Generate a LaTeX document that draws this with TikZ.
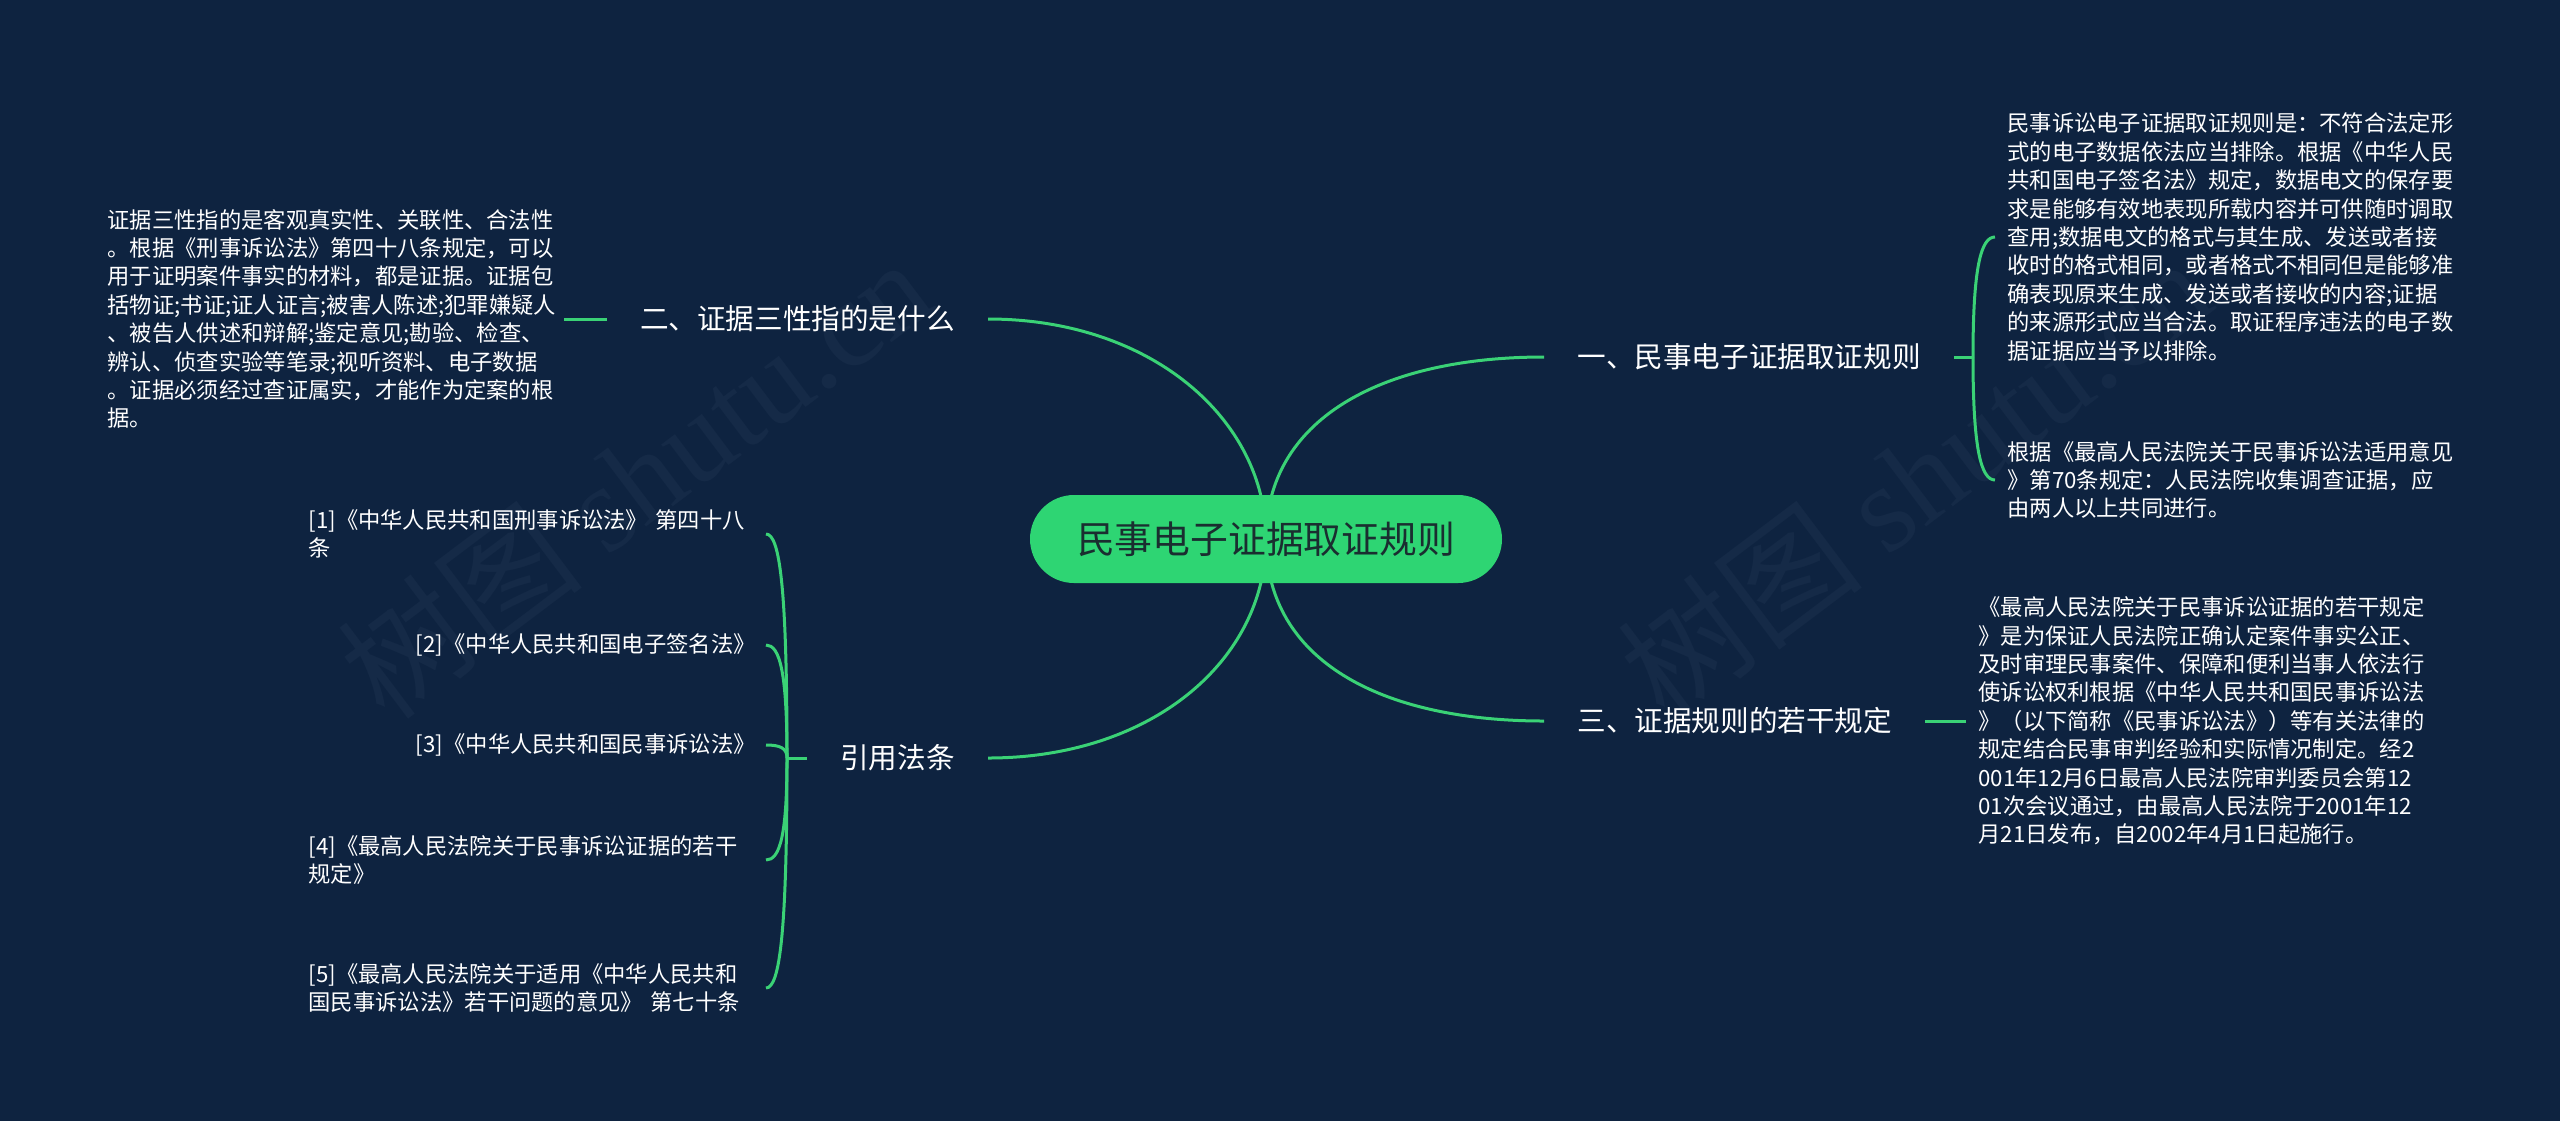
\documentclass[tikz,border=0pt]{standalone}
\usepackage{fontspec}
\setmainfont{Noto Sans CJK SC}
\newfontfamily\wmlatin{Liberation Serif}
\usetikzlibrary{calc}
\definecolor{bgc}{RGB}{14,35,64}
\definecolor{lnc}{RGB}{58,210,118}
\definecolor{rootc}{RGB}{46,213,115}
\definecolor{roottxt}{RGB}{26,46,48}
\definecolor{wmc}{RGB}{21,42,71}
\pgfdeclarelayer{bgl}
\pgfdeclarelayer{lnl}
\pgfsetlayers{bgl,lnl,main}
\hfuzz=300pt
\hbadness=10000
\tikzset{
  conn/.style={draw=lnc, line width=1.5pt},
  rootbox/.style={fill=rootc, rounded corners=22pt, minimum width=236pt, minimum height=44pt, inner sep=0pt, text=roottxt, font=\fontsize{18.9pt}{22pt}\selectfont},
  branch/.style={text=white, inner xsep=16.5pt, inner ysep=4pt, font=\fontsize{14.3pt}{17pt}\selectfont},
  leaf/.style={text=white, align=left, inner ysep=2pt, font=\fontsize{11.15pt}{14.2pt}\selectfont},
  leafw/.style={leaf, text width=223.5pt},
  leafr/.style={leaf, text width=226pt},
  wm/.style={text=wmc, rotate=37, anchor=south west, inner sep=0pt, font=\fontsize{62pt}{66pt}\selectfont}
}
\begin{document}
\begin{tikzpicture}[x=0.5pt,y=-0.5pt]
\useasboundingbox (0,0) rectangle (2560,1121);
\begin{pgfonlayer}{bgl}
\fill[bgc] (0,0) rectangle (2560,1121);
\node[wm] (wm1) at (392,732) {树图 {\wmlatin shutu.cn}};
\node[wm] (wm2) at (1672,732) {树图 {\wmlatin shutu.cn}};
\end{pgfonlayer}

% root
\node[rootbox] (root) at (1266,539) {民事电子证据取证规则};

% branches
\node[branch, anchor=west] (b1) at (1544,357) {一、民事电子证据取证规则};
\node[branch, anchor=east] (b2) at (988,319) {二、证据三性指的是什么};
\node[branch, anchor=west] (b3) at (1544,721) {三、证据规则的若干规定};
\node[branch, anchor=east] (b4) at (988,758) {引用法条};

% details of branch 1
\node[leafr, anchor=west, inner xsep=6pt] (d1a) at (1995,237) {民事诉讼电子证据取证规则是：不符合法定形\\式的电子数据依法应当排除。根据《中华人民\\共和国电子签名法》规定，数据电文的保存要\\求是能够有效地表现所载内容并可供随时调取\\查用;数据电文的格式与其生成、发送或者接\\收时的格式相同，或者格式不相同但是能够准\\确表现原来生成、发送或者接收的内容;证据\\的来源形式应当合法。取证程序违法的电子数\\据证据应当予以排除。};
\node[leafr, anchor=west, inner xsep=6pt] (d1b) at (1995,480) {根据《最高人民法院关于民事诉讼法适用意见\\》第70条规定：人民法院收集调查证据，应\\由两人以上共同进行。};

% detail of branch 2
\node[leafw, anchor=east, inner xsep=4.5pt] (d2) at (564,319) {证据三性指的是客观真实性、关联性、合法性\\。根据《刑事诉讼法》第四十八条规定，可以\\用于证明案件事实的材料，都是证据。证据包\\括物证;书证;证人证言;被害人陈述;犯罪嫌疑人\\、被告人供述和辩解;鉴定意见;勘验、检查、\\辨认、侦查实验等笔录;视听资料、电子数据\\。证据必须经过查证属实，才能作为定案的根\\据。};

% detail of branch 3
\node[leafr, anchor=west, inner xsep=6pt] (d3) at (1966,721) {《最高人民法院关于民事诉讼证据的若干规定\\》是为保证人民法院正确认定案件事实公正、\\及时审理民事案件、保障和便利当事人依法行\\使诉讼权利根据《中华人民共和国民事诉讼法\\》（以下简称《民事诉讼法》）等有关法律的\\规定结合民事审判经验和实际情况制定。经2\\001年12月6日最高人民法院审判委员会第12\\01次会议通过，由最高人民法院于2001年12\\月21日发布，自2002年4月1日起施行。};

% children of branch 4
\node[leafw, anchor=east, inner xsep=5pt] (c1) at (766,534) {[1]《中华人民共和国刑事诉讼法》~第四十八\\条};
\node[leaf, anchor=east, inner xsep=5pt] (c2) at (766,645) {[2]《中华人民共和国电子签名法》};
\node[leaf, anchor=east, inner xsep=5pt] (c3) at (766,745) {[3]《中华人民共和国民事诉讼法》};
\node[leafw, anchor=east, inner xsep=5pt] (c4) at (766,860) {[4]《最高人民法院关于民事诉讼证据的若干\\规定》};
\node[leafw, anchor=east, inner xsep=5pt] (c5) at (766,988) {[5]《最高人民法院关于适用《中华人民共和\\国民事诉讼法》若干问题的意见》~第七十条};

\coordinate (j1) at (1973,357);
\coordinate (j4) at (787,758);

\begin{pgfonlayer}{lnl}
\draw[conn] (root.center) .. controls +(0,-119) and +(-164,0) .. (b1.west);
\draw[conn] (root.center) .. controls +(0,121) and +(-164,0) .. (b3.west);
\draw[conn] (root.center) .. controls +(0,-119) and +(164,0) .. (b2.east);
\draw[conn] (root.center) .. controls +(0,121) and +(164,0) .. (b4.east);
\draw[conn] (b2.west) -- (d2.east);
\draw[conn] (b3.east) -- (d3.west);
\draw[conn] (b1.east) -- (j1);
\draw[conn] (j1) .. controls +(0,-90) and +(-14,0) .. (d1a.west);
\draw[conn] (j1) .. controls +(0,92) and +(-14,0) .. (d1b.west);
\draw[conn] (b4.west) -- (j4);
\draw[conn] (j4) .. controls +(0,-168) and +(14,0) .. (c1.east);
\draw[conn] (j4) .. controls +(0,-85) and +(14,0) .. (c2.east);
\draw[conn] (j4) .. controls +(0,-10) and +(14,0) .. (c3.east);
\draw[conn] (j4) .. controls +(0,77) and +(14,0) .. (c4.east);
\draw[conn] (j4) .. controls +(0,172) and +(14,0) .. (c5.east);
\end{pgfonlayer}
\end{tikzpicture}
\end{document}
